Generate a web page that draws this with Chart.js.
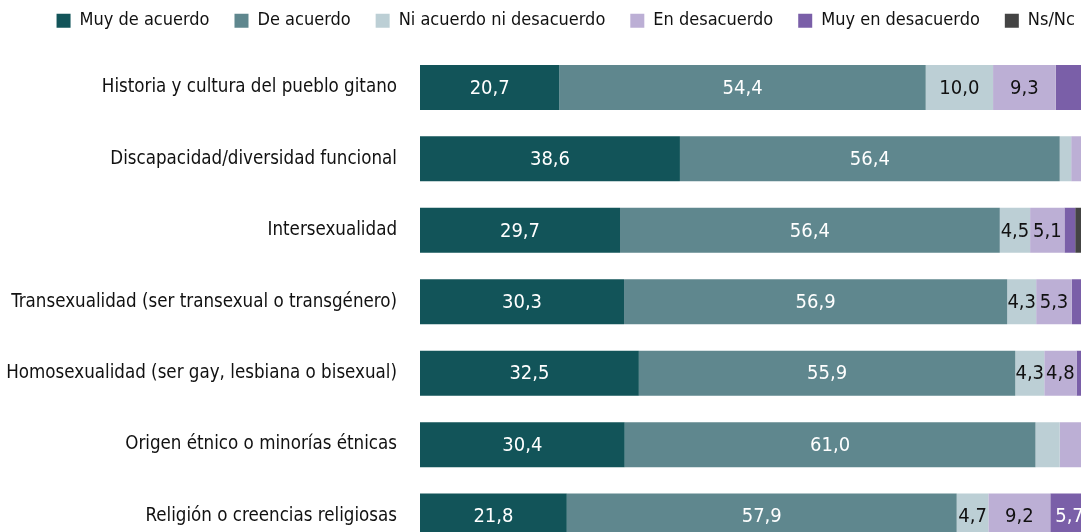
<!DOCTYPE html>
<html>
<head>
<meta charset="utf-8">
<script src="https://cdn.jsdelivr.net/npm/chart.js@4.4.1/dist/chart.umd.min.js"></script>
<style>
  html, body { margin: 0; padding: 0; background: #fff; overflow: hidden; }
</style>
</head>
<body>
<canvas id="grafico" width="1130" height="556"></canvas>
<script>
// datos
const categorias = [
    'Historia y cultura del pueblo gitano',
    'Discapacidad/diversidad funcional',
    'Intersexualidad',
    'Transexualidad (ser transexual o transgénero)',
    'Homosexualidad (ser gay, lesbiana o bisexual)',
    'Origen étnico o minorías étnicas',
    'Religión o creencias religiosas'
];
const muyDeAcuerdo = [20.7, 38.6, 29.7, 30.3, 32.5, 30.4, 21.8];
const deAcuerdo = [54.4, 56.4, 56.4, 56.9, 55.9, 61.0, 57.9];
const niAcuerdo = [10.0, 1.7, 4.5, 4.3, 4.3, 3.6, 4.7];
const enDesacuerdo = [9.3, 2.2, 5.1, 5.3, 4.8, 3.4, 9.2];
const muyEnDesacuerdo = [3.9, 0.7, 1.6, 2.0, 1.5, 1.0, 5.7];
const nsNc = [1.7, 0.4, 2.7, 1.2, 1.0, 0.6, 0.7];

const fuente = "'Liberation Sans Narrow', 'DejaVu Sans Condensed', 'Roboto', sans-serif";

// etiquetas dentro de las barras
const etiquetas = {
    id: 'etiquetas',
    afterDatasetsDraw(chart) {
        const ctx = chart.ctx;
        ctx.save();
        ctx.font = '20px ' + fuente;
        ctx.textAlign = 'center';
        ctx.textBaseline = 'middle';
        chart.data.datasets.forEach((ds, i) => {
            const meta = chart.getDatasetMeta(i);
            meta.data.forEach((bar, j) => {
                const v = ds.data[j];
                if (v < 4) return;
                const x = (bar.x + bar.base) / 2;
                ctx.fillStyle = ds.textColor;
                ctx.fillText(v.toFixed(1).replace('.', ','), x, bar.y + 1);
            });
        });
        ctx.restore();
    }
};

// espacio bajo la leyenda y centrado
const leyenda = {
    id: 'leyenda',
    beforeInit(chart) {
        if (!chart.legend) return;
        const fitOrig = chart.legend.fit;
        chart.legend.fit = function () {
            fitOrig.call(this);
            this.height += 12;
        };
    },
    afterLayout(chart) {
        chart.legend.left += 19;
        chart.legend.right += 19;
    }
};

new Chart(document.getElementById('grafico'), {
    type: 'bar',
    data: {
        labels: categorias,
        datasets: [
            { label: 'Muy de acuerdo', data: muyDeAcuerdo, backgroundColor: '#125459', textColor: '#fff' },
            { label: 'De acuerdo', data: deAcuerdo, backgroundColor: '#5f878e', textColor: '#fff' },
            { label: 'Ni acuerdo ni desacuerdo', data: niAcuerdo, backgroundColor: '#bccfd5', textColor: '#111' },
            { label: 'En desacuerdo', data: enDesacuerdo, backgroundColor: '#bcafd5', textColor: '#111' },
            { label: 'Muy en desacuerdo', data: muyEnDesacuerdo, backgroundColor: '#7a5fa8', textColor: '#fff' },
            { label: 'Ns/Nc', data: nsNc, backgroundColor: '#444444', textColor: '#fff' }
        ]
    },
    options: {
        indexAxis: 'y',
        responsive: false,
        animation: false,
        datasets: { bar: { barPercentage: 0.63, categoryPercentage: 1.0 } },
        layout: { padding: { top: -13.3, right: 36.6, bottom: 4.2, left: 0 } },
        scales: {
            x: { stacked: true, min: 0, max: 100, display: false },
            y: {
                stacked: true,
                grid: { display: false },
                border: { display: false },
                ticks: { color: '#111', font: { size: 18.6, family: fuente }, padding: 15 },
                afterFit(scale) {
                    scale.width = 420;
                    scale.paddingTop = 0;
                    scale.paddingBottom = 0;
                }
            }
        },
        plugins: {
            legend: {
                position: 'top',
                labels: {
                    color: '#111',
                    font: { size: 18, family: fuente },
                    boxWidth: 14,
                    boxHeight: 14,
                    padding: 25
                }
            },
            tooltip: { enabled: false }
        }
    },
    plugins: [etiquetas, leyenda]
});
</script>
</body>
</html>
